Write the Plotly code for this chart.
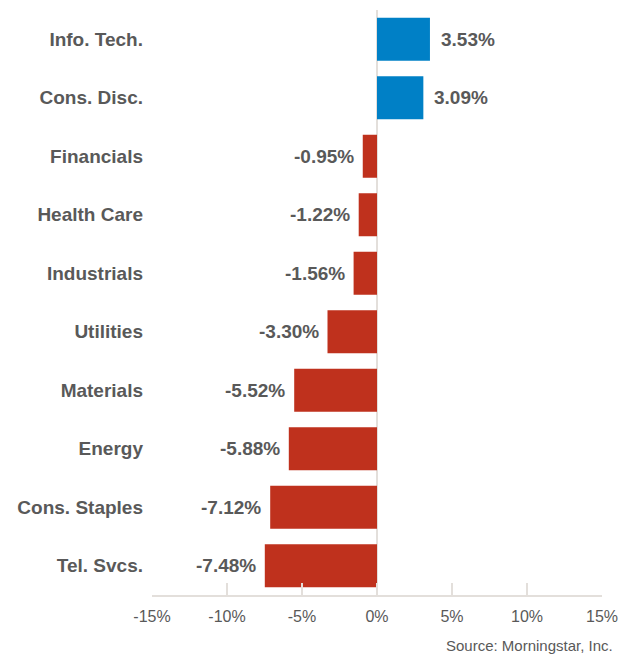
import plotly.graph_objects as go

sectors = ["Info. Tech.", "Cons. Disc.", "Financials", "Health Care", "Industrials",
           "Utilities", "Materials", "Energy", "Cons. Staples", "Tel. Svcs."]
returns = [3.53, 3.09, -0.95, -1.22, -1.56, -3.30, -5.52, -5.88, -7.12, -7.48]
tick_vals = [-15, -10, -5, 0, 5, 10, 15]
tick_text = ["-15%", "-10%", "-5%", "0%", "5%", "10%", "15%"]

BLUE = "#0080C6"
RED = "#BF311D"
GRAY = "#595959"
LINE = "#E3DFDB"
FONT = "Liberation Sans, Arial, sans-serif"

colors = [BLUE if v > 0 else RED for v in returns]

fig = go.Figure()
fig.add_trace(go.Bar(
    x=returns, y=sectors, orientation="h",
    marker=dict(color=colors, line=dict(width=0)),
    hoverinfo="skip",
))

for s, v in zip(sectors, returns):
    fig.add_annotation(
        x=v, y=s, xref="x", yref="y",
        text=f"<b>{v:.2f}%</b>",
        showarrow=False,
        xanchor="left" if v > 0 else "right",
        xshift=9 if v > 0 else -7,
        font=dict(family=FONT, size=19, color=GRAY),
    )

fig.add_annotation(
    x=1.029, y=-0.0855, xref="paper", yref="paper",
    text="Source: Morningstar, Inc.", showarrow=False,
    xanchor="right", yanchor="middle",
    font=dict(family=FONT, size=15, color=GRAY),
)

fig.update_layout(
    width=619, height=655,
    margin=dict(l=152, r=17, t=10, b=60, autoexpand=False),
    paper_bgcolor="white", plot_bgcolor="white",
    bargap=0.265,
    showlegend=False,
    font=dict(family=FONT, color=GRAY),
    xaxis=dict(
        range=[-15, 15],
        tickvals=tick_vals, ticktext=tick_text,
        showgrid=False,
        zeroline=True, zerolinecolor=LINE, zerolinewidth=2,
        showline=True, linecolor=LINE, linewidth=2,
        ticks="inside", ticklen=12, tickwidth=2, tickcolor=LINE,
        tickfont=dict(size=16, color=GRAY),
        ticklabelstandoff=6,
        fixedrange=True,
    ),
    yaxis=dict(
        autorange="reversed",
        showgrid=False, zeroline=False, showline=False,
        ticks="",
        tickfont=dict(size=19, color=GRAY, weight="bold"),
        ticklabelstandoff=8,
        fixedrange=True,
    ),
)

fig.write_html(
    "out.html",
    config={"displayModeBar": False},
    post_script="document.body.style.margin='0';document.body.style.overflow='hidden';",
)
